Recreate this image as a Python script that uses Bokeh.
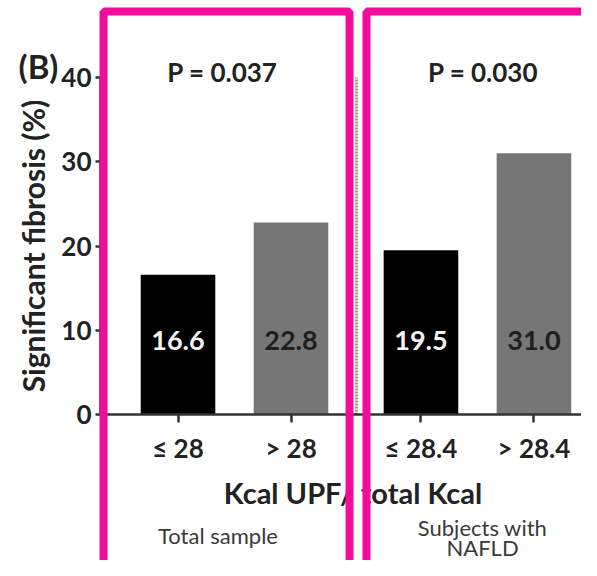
from bokeh.plotting import figure
from bokeh.models import Range1d, FixedTicker, BoxAnnotation, ColumnDataSource
from bokeh.core.properties import value
from bokeh.embed import file_html
from bokeh.resources import INLINE

# ---- data ----
categories = ["≤ 28", "> 28", "≤ 28.4", "> 28.4"]
values = [16.6, 22.8, 19.5, 31.0]
value_labels = ["16.6", "22.8", "19.5", "31.0"]
groups = ["Total sample", "Subjects with", "NAFLD"]
p_values = ["P = 0.037", "P = 0.030"]
y_ticks = [0, 10, 20, 30, 40]
x_title = "Kcal UPF/ total  Kcal"
y_title = "Significant fibrosis (%)"
panel_tag = "(B)"

# ---- layout / style ----
x_pos = [1.0, 2.0, 3.15, 4.15]
bar_colors = ["#000000", "#767676", "#000000", "#767676"]
label_colors = ["#f2f2f2", "#1e1e1e", "#f2f2f2", "#1e1e1e"]
FONT = "Lato"
PINK = "#F20C9E"
DARK = "#222222"

p = figure(width=581, height=560, output_backend="svg", toolbar_location=None,
           x_range=Range1d(-0.5708, 4.5708), y_range=Range1d(-17.33, 49.14),
           min_border=0, min_border_left=0, min_border_right=0,
           min_border_top=0, min_border_bottom=0)
p.outline_line_color = None
p.xgrid.visible = False
p.ygrid.visible = False
p.background_fill_color = "white"

src = ColumnDataSource(dict(x=x_pos, top=values, color=bar_colors,
                            lab=value_labels, lc=label_colors,
                            ly=[8.78] * len(values)))
p.vbar(x="x", top="top", width=0.66, color="color", line_color=None, source=src)
p.text(x="x", y="ly", text="lab", text_color="lc", source=src,
       text_font=value(FONT), text_font_style="bold", text_font_size="27px",
       text_align="center", text_baseline="middle")

# dotted divider
p.segment(x0=[2.58], y0=[0], x1=[2.58], y1=[40], line_color="#999999",
          line_width=3, line_dash="2 1")

# P values
p.text(x=[1.394, 3.70], y=[40.6, 40.6], text=p_values, text_color=DARK,
       text_font=value(FONT), text_font_style="bold", text_font_size="26px",
       text_align="center", text_baseline="middle")

# axes (fixed inside the frame)
xa = p.xaxis[0]
xa.fixed_location = 0
xa.bounds = (0.314, 4.6)
xa.ticker = FixedTicker(ticks=x_pos)
xa.major_label_overrides = {x: c for x, c in zip(x_pos, categories)}
ya = p.yaxis[0]
ya.fixed_location = 0.314
ya.ticker = FixedTicker(ticks=y_ticks)
ya.axis_label = y_title
ya.bounds = (0, 40)
for ax in (xa, ya):
    ax.axis_line_width = 2.5
    ax.axis_line_color = "#333333"
    ax.major_tick_line_width = 2.5
    ax.major_tick_line_color = "#333333"
    ax.minor_tick_line_color = None
    ax.major_tick_in = 0
    ax.major_label_text_font = FONT
    ax.major_label_text_font_style = "bold"
    ax.major_label_text_font_size = "26px"
    ax.major_label_text_color = DARK
    ax.axis_label_text_font = FONT
    ax.axis_label_text_font_style = "bold"
    ax.axis_label_text_color = DARK
ya.axis_label_text_font_size = "30px"
xa.major_tick_out = 8
xa.major_label_standoff = 10
ya.major_tick_out = 5
ya.major_label_standoff = 4
ya.axis_label_standoff = 7

# x-axis title, centred under the whole chart
p.text(x=[2.58], y=[-9.26], text=[x_title], text_color=DARK,
       text_font=value(FONT), text_font_style="bold", text_font_size="29px",
       text_align="center", text_baseline="middle")

# group captions and panel tag
p.text(x=[1.354, 3.695, 3.695], y=[-14.36, -13.41, -15.79], text=groups,
       text_color="#3a3a3a", text_font=value(FONT), text_font_size="22px",
       text_align="center", text_baseline="middle")
p.text(x=[-0.2345], y=[41.42], text=[panel_tag], text_color=DARK,
       text_font=value(FONT), text_font_style="bold", text_font_size="33px",
       text_align="center", text_baseline="middle")

# pink frames
for left, right in [(0.341, 2.518), (2.668, 4.75)]:
    p.add_layout(BoxAnnotation(left=left, right=right, top=47.83, bottom=-19.1,
                               fill_color=None, fill_alpha=0, line_color=PINK,
                               line_alpha=1.0, line_width=8, level="overlay"))

open("out.html", "w").write(file_html(p, INLINE))
